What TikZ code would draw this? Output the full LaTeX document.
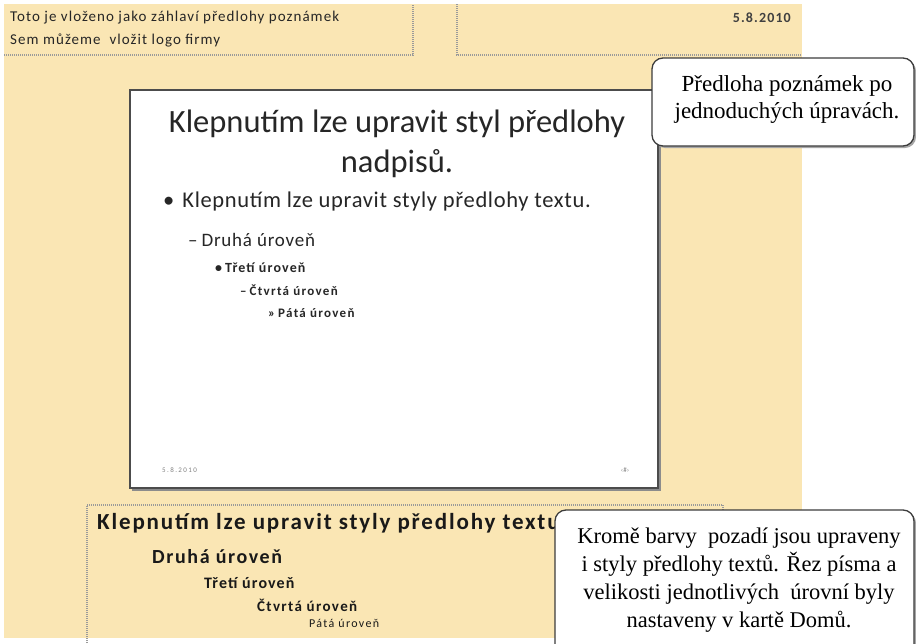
\documentclass[tikz,border=0pt]{standalone}
\usepackage{fontspec}
\setmainfont{Liberation Serif}
\newfontfamily\calib{Carlito}
\newcommand\cfnt[3]{\calib\fontsize{#1}{#2}\selectfont\addfontfeatures{LetterSpace=#3}}
\definecolor{pagebeige}{HTML}{FAE6B4}
\definecolor{dotgray}{HTML}{9A9A9A}
\definecolor{bordergray}{HTML}{3C3C3C}
\tikzset{
  dotline/.style={draw=dotgray, line width=1.2pt, dash pattern=on 1pt off 1pt},
  hdrtext/.style={anchor=west, inner sep=0pt, font=\cfnt{15}{18}{7}, text=black!85},
  slidetext/.style={anchor=west, inner sep=0pt, text=black!85},
  notetext/.style={anchor=west, inner sep=0pt, text=black!90},
  callout/.style={draw=bordergray, line width=1.3pt, fill=white, rounded corners=11pt},
  callshadow/.style={fill=black!35, rounded corners=11pt},
  calltext/.style={inner sep=0pt, align=center, text=black}
}
\begin{document}
\begin{tikzpicture}[x=1pt,y=-1pt]
\useasboundingbox (0,0) rectangle (916,643);
\clip (0,0) rectangle (916,643);
\fill[white] (0,0) rectangle (916,643);
% page background
\fill[pagebeige] (4,4) rectangle (802,638);
% header boxes
\draw[dotline] (4,55) -- (413,55) -- (413,4);
\draw[dotline] (457,4) -- (457,55) -- (802,55);
\node[hdrtext] (h1) at (10,18) {Toto je vloženo jako záhlaví předlohy poznámek};
\node[hdrtext] (h2) at (10,40) {Sem můžeme\ \ vložit logo firmy};
\node[anchor=east, inner sep=0pt, font=\bfseries\cfnt{14}{16}{8}, text=black!75] (date) at (791,18) {5.8.2010};
% slide
\fill[black!45] (132,92) rectangle (661,491);
\draw[draw=black!70, line width=1.2pt, fill=white] (130,90) rectangle (658,488);
\node[anchor=center, inner sep=0pt, align=center, font=\cfnt{32.5}{40}{0}, text=black!85] (title) at (397,144) {Klepnutím lze upravit styl předlohy\\nadpisů.};
\node[slidetext, font=\cfnt{22.5}{26}{3}] (b1) at (163,201) {•\hspace{8pt}Klepnutím lze upravit styly předlohy textu.};
\node[slidetext, font=\cfnt{19}{22}{4}] (b2) at (188,240) {–\hspace{4pt}Druhá úroveň};
\node[slidetext, font=\bfseries\cfnt{14}{16}{8}] (b3) at (215,268) {•\hspace{3pt}Třetí úroveň};
\node[slidetext, font=\bfseries\cfnt{13}{15}{10}] (b4) at (240,290) {–\hspace{3pt}Čtvrtá úroveň};
\node[slidetext, font=\bfseries\cfnt{13}{15}{10}] (b5) at (268,313) {»\hspace{3pt}Pátá úroveň};
\node[slidetext, font=\cfnt{7}{8}{20}, text=black!50] (sdate) at (162,470) {5.8.2010};
\node[anchor=center, inner sep=0pt, font=\cfnt{7}{8}{0}, text=black!50] (snum) at (625,470) {‹\#›};
% notes area
\draw[dotline] (87,643) -- (87,505) -- (723,505) -- (723,512);
\node[notetext, font=\bfseries\cfnt{23}{26}{8}] (n1) at (97,523) {Klepnutím lze upravit styly předlohy textu};
\node[notetext, font=\bfseries\cfnt{20}{22}{8}] (n2) at (152,557) {Druhá úroveň};
\node[notetext, font=\bfseries\cfnt{16}{18}{7}] (n3) at (204,583) {Třetí úroveň};
\node[notetext, font=\bfseries\cfnt{15}{17}{9}] (n4) at (257,605) {Čtvrtá úroveň};
\node[notetext, font=\cfnt{12}{14}{11}] (n5) at (309,623) {Pátá úroveň};
% callouts
\fill[callshadow] (654,60) rectangle (916,148);
\draw[callout] (652,58) rectangle (914,146);
\node[calltext, font=\fontsize{23}{27}\selectfont] (c1) at (787,99) {Předloha poznámek po\\jednoduchých úpravách.};
\fill[callshadow] (557,512) rectangle (916,660);
\draw[callout] (555,510) rectangle (914,660);
\node[calltext, font=\fontsize{22.5}{28}\selectfont] (c2) at (739,580) {Kromě barvy\ \ pozadí jsou upraveny\\i styly předlohy textů. Řez písma a\\velikosti jednotlivých\ \ úrovní byly\\nastaveny v kartě Domů.};
\end{tikzpicture}
\end{document}
